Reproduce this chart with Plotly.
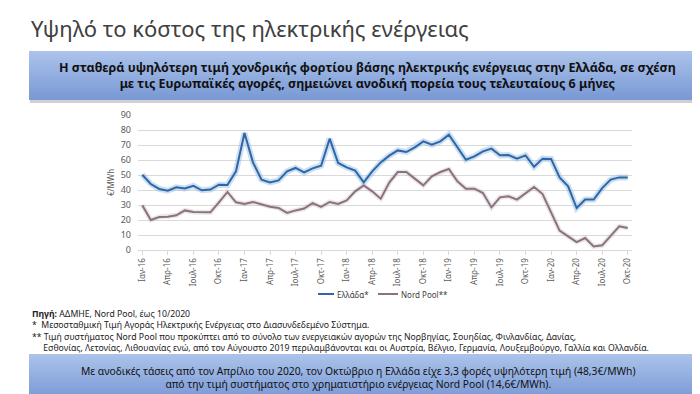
import plotly.graph_objects as go

# ---------------- data ----------------
month_names = ["Ιαν", "Φεβ", "Μαρ", "Απρ", "Μαϊ", "Ιουν", "Ιουλ", "Αυγ", "Σεπ", "Οκτ", "Νοε", "Δεκ"]
years = ["16", "17", "18", "19", "20"]
months = [f"{m}-{y}" for y in years for m in month_names][:58]  # Ιαν-16 .. Οκτ-20

greece = [50.2, 44.0, 40.7, 39.5, 41.8, 41.0, 42.8, 39.8, 40.3, 43.5, 43.3, 52.4,
          78.0, 58.4, 46.9, 45.1, 46.4, 52.4, 54.7, 51.8, 54.4, 56.2, 74.2, 58.0,
          55.1, 52.9, 45.1, 52.4, 58.4, 62.9, 66.4, 65.3, 68.4, 72.4, 70.2, 72.4,
          76.9, 68.4, 60.2, 62.4, 65.8, 67.6, 63.1, 63.3, 60.9, 63.1, 55.5, 60.9,
          60.7, 48.4, 42.4, 28.0, 33.6, 33.6, 41.3, 46.9, 48.4, 48.3]

nordpool = [29.8, 20.0, 22.0, 22.2, 23.1, 26.4, 25.3, 25.1, 25.1, 31.8, 38.7, 31.8,
            30.7, 32.0, 30.2, 28.9, 28.0, 24.7, 26.4, 27.6, 31.3, 28.7, 32.0, 30.7,
            33.1, 39.1, 43.1, 39.1, 34.2, 45.0, 52.0, 52.0, 47.6, 43.1, 49.1, 52.0,
            54.0, 45.8, 40.9, 40.9, 38.0, 28.4, 35.1, 35.8, 33.6, 38.0, 42.0, 37.3,
            24.7, 12.9, 9.1, 5.3, 8.0, 2.4, 3.1, 9.1, 15.8, 14.6]

series_names = ["Ελλάδα*", "Nord Pool**"]
tick_labels = months[::3]
y_ticks = [0, 10, 20, 30, 40, 50, 60, 70, 80, 90]

# ---------------- layout helpers ----------------
W, H = 700, 394
L, R, T, B = 130, 624, 107, 242
BLUE, MAUVE = "#2F66A3", "#8A727E"


def px(x):
    return (x - L) / (R - L)


def py(y):
    return (B - y) / (B - T)


fig = go.Figure()

# soft glow under the lines
fig.add_trace(go.Scatter(x=months, y=greece, mode="lines",
                         line=dict(color="rgba(140,185,230,0.45)", width=6),
                         showlegend=False, hoverinfo="skip"))
fig.add_trace(go.Scatter(x=months, y=nordpool, mode="lines",
                         line=dict(color="rgba(190,175,185,0.30)", width=5),
                         showlegend=False, hoverinfo="skip"))
fig.add_trace(go.Scatter(x=months, y=greece, mode="lines", name=series_names[0],
                         line=dict(color=BLUE, width=2), showlegend=False))
fig.add_trace(go.Scatter(x=months, y=nordpool, mode="lines", name=series_names[1],
                         line=dict(color=MAUVE, width=2), showlegend=False))

shapes = []
annotations = []


def gradient_box(x0, y0, x1, y1, top, bottom, n=16):
    # shadow below the box
    shapes.append(dict(type="rect", xref="paper", yref="paper",
                       x0=px(x0 + 1), x1=px(x1 + 1), y0=py(y1 + 3), y1=py(y0 + 3),
                       fillcolor="rgba(120,120,120,0.35)", line=dict(width=0), layer="below"))
    h = (y1 - y0) / n
    for i in range(n):
        t = i / (n - 1)
        c = tuple(int(round(top[k] + (bottom[k] - top[k]) * t)) for k in range(3))
        shapes.append(dict(type="rect", xref="paper", yref="paper",
                           x0=px(x0), x1=px(x1), y0=py(y1), y1=py(y0 + i * h),
                           fillcolor=f"rgb{c}", line=dict(width=0), layer="below"))


gradient_box(21, 43, 690, 92, (170, 194, 234), (122, 153, 213))
gradient_box(21, 346, 690, 392, (170, 194, 234), (122, 153, 213))

# compact legend (short keys, as in the reference)
for (lx0, lx1, name, col) in [(310, 326, series_names[0], BLUE), (370, 390, series_names[1], MAUVE)]:
    shapes.append(dict(type="line", xref="paper", yref="paper", x0=px(lx0), x1=px(lx1),
                       y0=py(286), y1=py(286), line=dict(color=col, width=2)))
    annotations.append(dict(xref="paper", yref="paper", x=px(lx1 + 1), y=py(286), xanchor="left",
                            yanchor="middle", text=name, showarrow=False,
                            font=dict(family="Noto Sans", size=8, color="#404040")))

annotations.append(dict(xref="paper", yref="paper", x=px(21), y=py(20), xanchor="left", yanchor="middle",
                        text="Υψηλό το κόστος της ηλεκτρικής ενέργειας", showarrow=False,
                        font=dict(family="Noto Sans", size=22, color="#404040")))
annotations.append(dict(xref="paper", yref="paper", x=px(359), y=py(67), xanchor="center", yanchor="middle",
                        text="<b>Η σταθερά υψηλότερη τιμή χονδρικής φορτίου βάσης ηλεκτρικής ενέργειας στην Ελλάδα, σε σχέση<br>με τις Ευρωπαϊκές αγορές, σημειώνει ανοδική πορεία τους τελευταίους 6 μήνες</b>",
                        showarrow=False, align="center",
                        font=dict(family="Noto Sans", size=12.5, color="#111111")))
annotations.append(dict(xref="paper", yref="paper", x=px(350), y=py(369), xanchor="center", yanchor="middle",
                        text="Με ανοδικές τάσεις από τον Απρίλιο του 2020, τον Οκτώβριο η Ελλάδα είχε 3,3 φορές υψηλότερη τιμή (48,3€/MWh)<br>από την τιμή συστήματος στο χρηματιστήριο ενέργειας Nord Pool (14,6€/MWh).",
                        showarrow=False, align="center",
                        font=dict(family="Noto Sans", size=10.3, color="#111111")))

foot_lines = [
    "<b>Πηγή:</b> ΑΔΜΗΕ, Nord Pool, έως 10/2020",
    "*  Μεσοσταθμική Τιμή Αγοράς Ηλεκτρικής Ενέργειας στο Διασυνδεδεμένο Σύστημα.",
    "** Τιμή συστήματος Nord Pool που προκύπτει από το σύνολο των ενεργειακών αγορών της Νορβηγίας, Σουηδίας, Φινλανδίας, Δανίας,",
    "     Εσθονίας, Λετονίας, Λιθουανίας ενώ, από τον Αύγουστο 2019 περιλαμβάνονται και οι Αυστρία, Βέλγιο, Γερμανία, Λουξεμβούργο, Γαλλία και Ολλανδία.",
]
annotations.append(dict(xref="paper", yref="paper", x=px(22), y=py(322.5), xanchor="left", yanchor="middle",
                        text="<br>".join(foot_lines), showarrow=False, align="left",
                        font=dict(family="Noto Sans", size=8.7, color="#222222")))

fig.update_layout(
    width=W, height=H,
    margin=dict(l=L, r=W - R, t=T, b=H - B, pad=0, autoexpand=False),
    paper_bgcolor="white", plot_bgcolor="white",
    font=dict(family="Noto Sans", color="#595959"),
    shapes=shapes, annotations=annotations,
    showlegend=False,
)
fig.update_xaxes(type="category", range=[-0.5, 57.5], tickmode="array", tickvals=tick_labels,
                 ticktext=tick_labels, tickangle=-90, tickfont=dict(size=8, color="#595959"),
                 showgrid=False, showline=True, linecolor="#D9D9D9", linewidth=1,
                 ticks="outside", ticklen=4, tickcolor="#D9D9D9", zeroline=False, automargin=False)
fig.update_yaxes(range=[0, 90], tickvals=y_ticks, tickfont=dict(size=9, color="#595959"),
                 showgrid=True, gridcolor="#D9D9D9", gridwidth=1, zeroline=False,
                 showline=False, ticks="", ticklabelstandoff=6, automargin=False,
                 title=dict(text="€/MWh", font=dict(size=8, color="#595959"), standoff=4))

fig.write_html("out.html")
